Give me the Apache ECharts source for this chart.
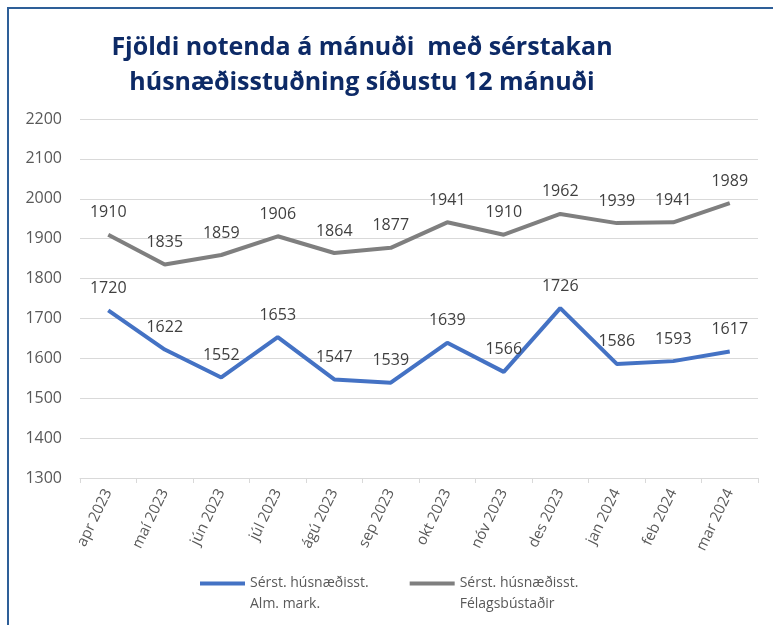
<!DOCTYPE html>
<html><head><meta charset="utf-8">
<script src="https://cdn.jsdelivr.net/npm/echarts@6/dist/echarts.min.js"></script>
<style>html,body{margin:0;padding:0;background:#fff;}#c{width:773px;height:625px;}</style>
</head><body><div id="c"></div>
<script>
const categories = ['apr 2023','maí 2023','jún 2023','júl 2023','ágú 2023','sep 2023','okt 2023','nóv 2023','des 2023','jan 2024','feb 2024','mar 2024'];
const almMark = [1720,1622,1552,1653,1547,1539,1639,1566,1726,1586,1593,1617];
const felagsbustadir = [1910,1835,1859,1906,1864,1877,1941,1910,1962,1939,1941,1989];
const seriesNames = ['Sérst. húsnæðisst.\nAlm. mark.','Sérst. húsnæðisst.\nFélagsbústaðir'];
const titleText = 'Fjöldi notenda á mánuði  með sérstakan\nhúsnæðisstuðning síðustu 12 mánuði';

const FONT = '"Open Sans", "Liberation Sans", sans-serif';
const chart = echarts.init(document.getElementById('c'));
chart.setOption({
  animation: false,
  backgroundColor: '#fff',
  title: {
    text: titleText,
    left: 357, top: 25, textAlign: 'center',
    textStyle: {fontFamily: FONT, fontWeight: 'bold', fontSize: 25, color: '#0D2A66', lineHeight: 35}
  },
  graphic: [{
    type: 'rect', shape: {x: 8, y: 8, width: 900, height: 800},
    style: {fill: 'none', stroke: '#2E5F98', lineWidth: 2}, silent: true
  }],
  grid: {left: 80, right: 15, top: 119, bottom: 147, containLabel: false},
  legend: {
    top: 547, left: 195, itemGap: 41, padding: 5,
    itemWidth: 45, itemHeight: 4, icon: 'rect',
    formatter: name => ' \n' + name,
    textStyle: {fontFamily: FONT, fontSize: 14, color: '#595959', lineHeight: 21},
    data: seriesNames
  },
  xAxis: {
    type: 'category', data: categories, boundaryGap: true,
    axisLine: {lineStyle: {color: '#D9D9D9', width: 1}},
    axisTick: {show: true, length: 5, lineStyle: {color: '#D9D9D9'}},
    axisLabel: {rotate: 64, fontFamily: FONT, fontSize: 15, color: '#595959', margin: 12}
  },
  yAxis: {
    type: 'value', min: 1300, max: 2200, interval: 100,
    axisLine: {show: false}, axisTick: {show: false},
    splitLine: {lineStyle: {color: '#D9D9D9', width: 1}},
    axisLabel: {fontFamily: FONT, fontSize: 16, color: '#595959', margin: 18, formatter: v => String(v)}
  },
  series: [
    {name: seriesNames[0], type: 'line', data: almMark, symbol: 'circle', symbolSize: 0.1, showSymbol: true,
     lineStyle: {color: '#4472C4', width: 4}, itemStyle: {color: '#4472C4'},
     label: {show: true, position: 'top', distance: 14, fontFamily: FONT, fontSize: 16, color: '#404040'}},
    {name: seriesNames[1], type: 'line', data: felagsbustadir, symbol: 'circle', symbolSize: 0.1, showSymbol: true,
     lineStyle: {color: '#7F7F7F', width: 4}, itemStyle: {color: '#7F7F7F'},
     label: {show: true, position: 'top', distance: 14, fontFamily: FONT, fontSize: 16, color: '#404040'}}
  ]
});
</script></body></html>
